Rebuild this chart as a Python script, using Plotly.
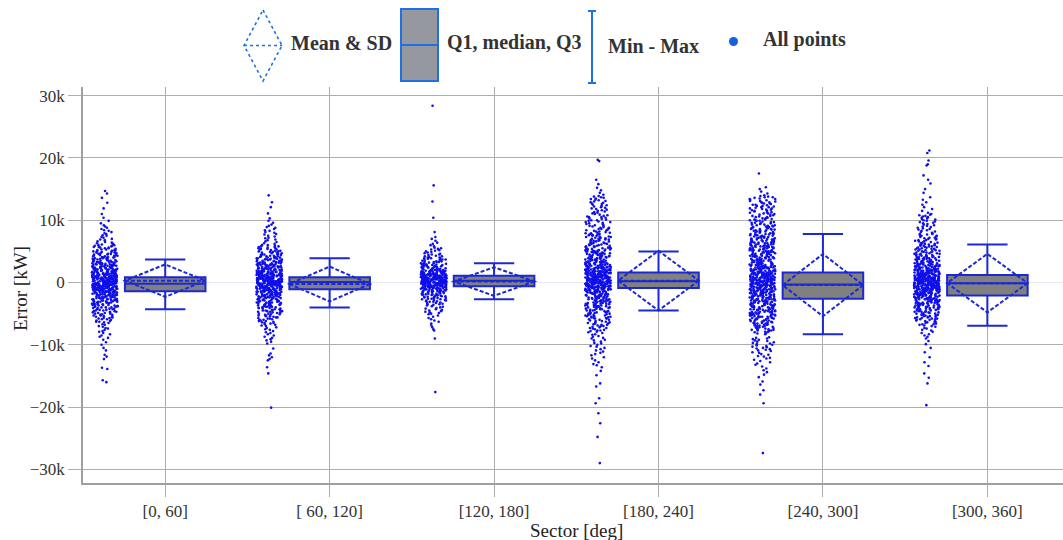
import plotly.graph_objects as go

# ---------------- data ----------------
sectors = ["[0, 60]", "[ 60, 120]", "[120, 180]", "[180, 240]", "[240, 300]", "[300, 360]"]

# box statistics (kW)
q1_vals = [-1400, -1100, -600, -900, -2600, -2100]
median_vals = [-200, 100, 300, 200, -300, -100]
q3_vals = [850, 850, 1070, 1600, 1600, 1200]
lower_vals = [-4300, -4000, -2700, -4500, -8300, -6950]
upper_vals = [3700, 3900, 3100, 5000, 7800, 6100]
mean_vals = [300, -240, 160, 300, -420, -100]
sd_vals = [2600, 2800, 2300, 4800, 5000, 4700]

pts_0_60 = [
    (14.7, 1), (14.3, 1), (13.6, 1), (12.8, 1), (11.9, 1), (11.0, 1), (10.4, 1), (9.9, 1), (9.5, 1), (9.2, 1),
    (9.0, 1), (8.8, 1), (8.6, 1), (8.4, 1), (8.3, 1), (8.1, 1), (7.9, 1), (7.8, 1), (7.6, 1), (7.5, 1),
    (7.3, 1), (7.2, 1), (7.0, 1), (6.9, 1), (6.8, 1), (6.6, 1), (6.5, 1), (6.4, 1), (6.3, 1), (6.2, 1), (6.1, 1),
    (6.0, 2), (5.9, 2), (5.8, 1), (5.7, 2), (5.6, 2), (5.5, 2), (5.4, 1), (5.3, 2), (5.2, 2), (5.1, 2),
    (5.0, 2), (4.9, 2), (4.8, 2), (4.7, 2), (4.6, 3), (4.5, 2), (4.4, 2), (4.3, 3), (4.2, 2), (4.1, 3), (4.0, 3),
    (3.9, 3), (3.8, 3), (3.7, 3), (3.6, 3), (3.5, 4), (3.4, 3), (3.3, 3), (3.2, 4), (3.1, 3), (3.0, 4),
    (2.9, 4), (2.8, 4), (2.7, 4), (2.6, 4), (2.5, 4), (2.4, 5), (2.3, 4), (2.2, 4), (2.1, 5), (2.0, 4),
    (1.9, 5), (1.8, 4), (1.7, 5), (1.6, 5), (1.5, 5), (1.4, 5), (1.3, 5), (1.2, 5), (1.1, 6), (1.0, 6),
    (0.9, 6), (0.8, 7), (0.7, 6), (0.6, 7), (0.5, 7), (0.4, 6), (0.3, 7), (0.2, 7), (0.1, 6), (0.0, 7),
    (-0.1, 7), (-0.2, 6), (-0.3, 7), (-0.4, 7), (-0.5, 6), (-0.6, 7), (-0.7, 6), (-0.8, 6), (-0.9, 6), (-1.0, 6),
    (-1.1, 6), (-1.2, 5), (-1.3, 6), (-1.4, 5), (-1.5, 5), (-1.6, 5), (-1.7, 4), (-1.8, 5), (-1.9, 4), (-2.0, 4),
    (-2.1, 4), (-2.2, 4), (-2.3, 4), (-2.4, 4), (-2.5, 4), (-2.6, 3), (-2.7, 4), (-2.8, 3), (-2.9, 4), (-3.0, 3),
    (-3.1, 3), (-3.2, 3), (-3.3, 3), (-3.4, 3), (-3.5, 3), (-3.6, 3), (-3.7, 2), (-3.8, 3), (-3.9, 2), (-4.0, 3),
    (-4.1, 2), (-4.2, 2), (-4.3, 2), (-4.4, 2), (-4.5, 2), (-4.6, 2), (-4.7, 2), (-4.8, 2), (-4.9, 2), (-5.0, 2),
    (-5.1, 1), (-5.2, 2), (-5.3, 2), (-5.4, 1), (-5.5, 2), (-5.6, 1), (-5.7, 2), (-5.8, 1), (-5.9, 2), (-6.0, 1),
    (-6.1, 1), (-6.2, 1), (-6.3, 2), (-6.4, 1), (-6.5, 1), (-6.7, 1), (-6.8, 1), (-7.0, 1), (-7.1, 1), (-7.3, 1),
    (-7.4, 1), (-7.6, 1), (-7.8, 1), (-7.9, 1), (-8.1, 1), (-8.3, 1), (-8.5, 1), (-8.7, 1), (-8.9, 1), (-9.2, 1),
    (-9.6, 1), (-10.0, 1), (-10.5, 1), (-10.9, 1), (-11.6, 1), (-11.9, 1), (-12.3, 1), (-13.7, 1), (-13.9, 1),
    (-15.7, 1), (-16.0, 1),
]

pts_60_120 = [
    (14.0, 1), (12.9, 1), (12.1, 1), (11.1, 1), (10.3, 1), (9.9, 1), (9.6, 1), (9.3, 1), (9.1, 1), (8.9, 1),
    (8.8, 1), (8.6, 1), (8.4, 1), (8.3, 1), (8.1, 1), (8.0, 1), (7.8, 1), (7.7, 1), (7.5, 1), (7.4, 1),
    (7.2, 1), (7.1, 1), (6.9, 1), (6.8, 1), (6.6, 1), (6.5, 1), (6.3, 1), (6.2, 1),
    (6.0, 2), (5.9, 1), (5.8, 2), (5.7, 2), (5.6, 1), (5.5, 2), (5.4, 2), (5.3, 2), (5.2, 1), (5.1, 2),
    (5.0, 2), (4.9, 2), (4.8, 2), (4.7, 2), (4.6, 2), (4.5, 3), (4.4, 2), (4.3, 2), (4.2, 3), (4.1, 2),
    (4.0, 3), (3.9, 3), (3.8, 3), (3.7, 3), (3.6, 3), (3.5, 3), (3.4, 4), (3.3, 3), (3.2, 3), (3.1, 4), (3.0, 3),
    (2.9, 4), (2.8, 4), (2.7, 4), (2.6, 4), (2.5, 4), (2.4, 4), (2.3, 5), (2.2, 4), (2.1, 4), (2.0, 5),
    (1.9, 4), (1.8, 5), (1.7, 5), (1.6, 5), (1.5, 5), (1.4, 5), (1.3, 5), (1.2, 6), (1.1, 5), (1.0, 6),
    (0.9, 6), (0.8, 7), (0.7, 6), (0.6, 7), (0.5, 7), (0.4, 7), (0.3, 6), (0.2, 7), (0.1, 7), (0.0, 7),
    (-0.1, 7), (-0.2, 6), (-0.3, 7), (-0.4, 6), (-0.5, 7), (-0.6, 6), (-0.7, 6), (-0.8, 6), (-0.9, 6), (-1.0, 6),
    (-1.1, 5), (-1.2, 6), (-1.3, 5), (-1.4, 5), (-1.5, 4), (-1.6, 5), (-1.7, 4), (-1.8, 4), (-1.9, 4), (-2.0, 4),
    (-2.1, 4), (-2.2, 4), (-2.3, 3), (-2.4, 4), (-2.5, 4), (-2.6, 3), (-2.7, 4), (-2.8, 3), (-2.9, 3), (-3.0, 4),
    (-3.1, 3), (-3.2, 3), (-3.3, 3), (-3.4, 3), (-3.5, 3), (-3.6, 3), (-3.7, 3), (-3.8, 2), (-3.9, 3), (-4.0, 2),
    (-4.1, 3), (-4.2, 2), (-4.3, 2), (-4.4, 2), (-4.5, 3), (-4.6, 2), (-4.7, 2), (-4.8, 2), (-4.9, 2), (-5.0, 2),
    (-5.1, 2), (-5.2, 1), (-5.3, 2), (-5.4, 2), (-5.5, 1), (-5.6, 2), (-5.7, 1), (-5.8, 2), (-5.9, 1), (-6.0, 2),
    (-6.1, 1), (-6.2, 2), (-6.3, 1), (-6.4, 1), (-6.5, 2), (-6.6, 1), (-6.7, 1), (-6.8, 1), (-6.9, 1), (-7.0, 1),
    (-7.2, 1), (-7.3, 1), (-7.5, 1), (-7.6, 1), (-7.8, 1), (-8.0, 1), (-8.1, 1), (-8.3, 1), (-8.5, 1), (-8.7, 1),
    (-8.9, 1), (-9.1, 1), (-9.3, 1), (-9.5, 1), (-9.8, 1), (-10.6, 1), (-11.4, 1), (-11.7, 1), (-12.0, 1), (-12.3, 1),
    (-12.5, 1), (-13.6, 1), (-14.6, 1), (-20.1, 1),
]

pts_120_180 = [
    (28.4, 1), (15.6, 1), (13.0, 1), (10.4, 1), (8.1, 1), (7.3, 1), (7.0, 1), (6.7, 1), (6.4, 1), (6.2, 1),
    (6.0, 1), (5.8, 1), (5.6, 1), (5.5, 1), (5.4, 1), (5.3, 1), (5.2, 1), (5.1, 1), (5.0, 1), (4.9, 1),
    (4.8, 1), (4.7, 1), (4.6, 1), (4.5, 2), (4.4, 1), (4.3, 1), (4.2, 2), (4.1, 1),
    (4.0, 2), (3.9, 2), (3.8, 2), (3.7, 2), (3.6, 2), (3.5, 2), (3.4, 2), (3.3, 3), (3.2, 2), (3.1, 2), (3.0, 3),
    (2.9, 3), (2.8, 3), (2.7, 3), (2.6, 3), (2.5, 3), (2.4, 4), (2.3, 3), (2.2, 4), (2.1, 4), (2.0, 4),
    (1.9, 4), (1.8, 5), (1.7, 5), (1.6, 5), (1.5, 6), (1.4, 6), (1.3, 7), (1.2, 7), (1.1, 7), (1.0, 8),
    (0.9, 8), (0.8, 8), (0.7, 8), (0.6, 8), (0.5, 8), (0.4, 8), (0.3, 8), (0.2, 8), (0.1, 8), (0.0, 8),
    (-0.1, 8), (-0.2, 7), (-0.3, 8), (-0.4, 7), (-0.5, 7), (-0.6, 7), (-0.7, 6), (-0.8, 6), (-0.9, 5), (-1.0, 5),
    (-1.1, 4), (-1.2, 4), (-1.3, 4), (-1.4, 4), (-1.5, 3), (-1.6, 3), (-1.7, 3), (-1.8, 3), (-1.9, 3), (-2.0, 3),
    (-2.1, 3), (-2.2, 2), (-2.3, 3), (-2.4, 2), (-2.5, 3), (-2.6, 2), (-2.7, 2), (-2.8, 2), (-2.9, 2), (-3.0, 2),
    (-3.1, 2), (-3.2, 1), (-3.3, 2), (-3.4, 1), (-3.5, 2), (-3.6, 1), (-3.7, 1), (-3.8, 1), (-3.9, 1), (-4.0, 1),
    (-4.1, 1), (-4.2, 1), (-4.3, 1), (-4.4, 1), (-4.5, 1), (-4.6, 1), (-4.7, 1), (-4.8, 1), (-4.9, 1), (-5.0, 1),
    (-5.1, 1), (-5.3, 1), (-5.5, 1), (-5.7, 1), (-5.9, 1), (-6.1, 1), (-6.3, 1), (-6.6, 1), (-6.9, 1), (-7.2, 1),
    (-7.5, 1), (-7.7, 1), (-9.0, 1), (-17.6, 1),
]

pts_180_240 = [
    (19.7, 1), (19.5, 1), (16.5, 1), (15.8, 1), (15.2, 1), (14.8, 1), (14.4, 1), (14.1, 1),
    (13.9, 1), (13.8, 1), (13.7, 1), (13.6, 1), (13.5, 1), (13.4, 1), (13.3, 1), (13.2, 1), (13.1, 1), (13.0, 1),
    (12.9, 1), (12.8, 1), (12.7, 1), (12.6, 1), (12.5, 1), (12.4, 1), (12.3, 1), (12.2, 1), (12.1, 1), (12.0, 1),
    (11.9, 1), (11.8, 1), (11.7, 1), (11.6, 1), (11.5, 1), (11.4, 1), (11.3, 1), (11.2, 1), (11.1, 1), (11.0, 1),
    (10.9, 1), (10.8, 1), (10.7, 1), (10.6, 1), (10.5, 2), (10.4, 1), (10.3, 1), (10.2, 1), (10.1, 1), (10.0, 2),
    (9.9, 1), (9.8, 1), (9.7, 2), (9.6, 1), (9.5, 1), (9.4, 2), (9.3, 1), (9.2, 1), (9.1, 2), (9.0, 1),
    (8.9, 1), (8.8, 2), (8.7, 1), (8.6, 2), (8.5, 1), (8.4, 2), (8.3, 1), (8.2, 2), (8.1, 1), (8.0, 2),
    (7.9, 2), (7.8, 2), (7.7, 2), (7.6, 2), (7.5, 2), (7.4, 2), (7.3, 2), (7.2, 2), (7.1, 2), (7.0, 2),
    (6.9, 2), (6.8, 2), (6.7, 2), (6.6, 2), (6.5, 2), (6.4, 2), (6.3, 2), (6.2, 2), (6.1, 2), (6.0, 2),
    (5.9, 2), (5.8, 2), (5.7, 2), (5.6, 3), (5.5, 2), (5.4, 2), (5.3, 3), (5.2, 2), (5.1, 3), (5.0, 3),
    (4.9, 3), (4.8, 3), (4.7, 3), (4.6, 3), (4.5, 3), (4.4, 3), (4.3, 3), (4.2, 3), (4.1, 3), (4.0, 3),
    (3.9, 3), (3.8, 3), (3.7, 4), (3.6, 3), (3.5, 4), (3.4, 3), (3.3, 4), (3.2, 4), (3.1, 4), (3.0, 4),
    (2.9, 4), (2.8, 4), (2.7, 4), (2.6, 5), (2.5, 5), (2.4, 5), (2.3, 5), (2.2, 5), (2.1, 6), (2.0, 5),
    (1.9, 6), (1.8, 6), (1.7, 6), (1.6, 6), (1.5, 6), (1.4, 6), (1.3, 6), (1.2, 6), (1.1, 6), (1.0, 6),
    (0.9, 6), (0.8, 6), (0.7, 6), (0.6, 6), (0.5, 6), (0.4, 6), (0.3, 6), (0.2, 6), (0.1, 6), (0.0, 6),
    (-0.1, 6), (-0.2, 6), (-0.3, 6), (-0.4, 6), (-0.5, 6), (-0.6, 6), (-0.7, 6), (-0.8, 6), (-0.9, 6), (-1.0, 5),
    (-1.1, 5), (-1.2, 5), (-1.3, 5), (-1.4, 4), (-1.5, 4), (-1.6, 4), (-1.7, 4), (-1.8, 3), (-1.9, 4), (-2.0, 3),
    (-2.1, 3), (-2.2, 3), (-2.3, 3), (-2.4, 3), (-2.5, 3), (-2.6, 3), (-2.7, 3), (-2.8, 3), (-2.9, 3), (-3.0, 3),
    (-3.1, 3), (-3.2, 3), (-3.3, 3), (-3.4, 3), (-3.5, 2), (-3.6, 3), (-3.7, 2), (-3.8, 3), (-3.9, 2), (-4.0, 3),
    (-4.1, 2), (-4.2, 2), (-4.3, 2), (-4.4, 2), (-4.5, 2), (-4.6, 2), (-4.7, 2), (-4.8, 2), (-4.9, 2), (-5.0, 2),
    (-5.1, 2), (-5.2, 2), (-5.3, 2), (-5.4, 2), (-5.5, 2), (-5.6, 2), (-5.7, 2), (-5.8, 2), (-5.9, 1), (-6.0, 2),
    (-6.1, 1), (-6.2, 2), (-6.3, 1), (-6.4, 2), (-6.5, 1), (-6.6, 2), (-6.7, 1), (-6.8, 2), (-6.9, 1), (-7.0, 2),
    (-7.1, 1), (-7.2, 1), (-7.3, 2), (-7.4, 1), (-7.5, 1), (-7.6, 1), (-7.7, 2), (-7.8, 1), (-7.9, 1), (-8.0, 1),
    (-8.1, 1), (-8.3, 1), (-8.4, 1), (-8.6, 1), (-8.7, 1), (-8.9, 1), (-9.0, 1), (-9.2, 1), (-9.3, 1), (-9.5, 1),
    (-9.7, 1), (-9.8, 1), (-10.0, 1), (-10.2, 1), (-10.3, 1), (-10.5, 1), (-10.7, 1), (-10.9, 1), (-11.1, 1), (-11.3, 1),
    (-11.5, 1), (-11.7, 1), (-12.0, 1), (-12.2, 1), (-12.5, 1), (-12.8, 1), (-13.1, 1), (-13.3, 1), (-13.6, 1), (-14.2, 1),
    (-14.9, 1), (-16.2, 1), (-16.7, 1), (-18.6, 1), (-19.4, 1), (-21.0, 1), (-22.6, 1), (-24.8, 1), (-29.0, 1),
]

pts_240_300 = [
    (17.5, 1), (15.3, 1), (15.0, 1), (14.6, 1), (14.3, 1), (14.0, 1),
    (13.9, 1), (13.8, 1), (13.7, 2), (13.6, 1), (13.5, 1), (13.4, 2), (13.3, 1), (13.2, 1), (13.1, 2), (13.0, 1),
    (12.9, 2), (12.8, 1), (12.7, 2), (12.6, 1), (12.5, 2), (12.4, 1), (12.3, 2), (12.2, 1), (12.1, 2), (12.0, 1),
    (11.9, 2), (11.8, 1), (11.7, 2), (11.6, 1), (11.5, 2), (11.4, 1), (11.3, 2), (11.2, 1), (11.1, 2), (11.0, 1),
    (10.9, 2), (10.8, 1), (10.7, 2), (10.6, 1), (10.5, 2), (10.4, 1), (10.3, 2), (10.2, 1), (10.1, 2), (10.0, 2),
    (9.9, 2), (9.8, 1), (9.7, 2), (9.6, 2), (9.5, 2), (9.4, 1), (9.3, 2), (9.2, 2), (9.1, 2), (9.0, 2),
    (8.9, 2), (8.8, 2), (8.7, 2), (8.6, 3), (8.5, 2), (8.4, 2), (8.3, 3), (8.2, 2), (8.1, 2), (8.0, 3),
    (7.9, 2), (7.8, 3), (7.7, 2), (7.6, 3), (7.5, 2), (7.4, 3), (7.3, 2), (7.2, 3), (7.1, 2), (7.0, 3),
    (6.9, 3), (6.8, 2), (6.7, 3), (6.6, 3), (6.5, 2), (6.4, 3), (6.3, 3), (6.2, 2), (6.1, 3), (6.0, 3),
    (5.9, 3), (5.8, 3), (5.7, 3), (5.6, 3), (5.5, 3), (5.4, 3), (5.3, 3), (5.2, 3), (5.1, 3), (5.0, 3),
    (4.9, 3), (4.8, 3), (4.7, 3), (4.6, 3), (4.5, 3), (4.4, 3), (4.3, 3), (4.2, 3), (4.1, 3), (4.0, 3),
    (3.9, 3), (3.8, 3), (3.7, 3), (3.6, 3), (3.5, 3), (3.4, 3), (3.3, 3), (3.2, 3), (3.1, 3), (3.0, 3),
    (2.9, 4), (2.8, 4), (2.7, 4), (2.6, 4), (2.5, 4), (2.4, 4), (2.3, 4), (2.2, 4), (2.1, 4), (2.0, 4),
    (1.9, 4), (1.8, 4), (1.7, 5), (1.6, 5), (1.5, 5), (1.4, 5), (1.3, 5), (1.2, 5), (1.1, 5), (1.0, 5),
    (0.9, 5), (0.8, 5), (0.7, 5), (0.6, 5), (0.5, 6), (0.4, 6), (0.3, 6), (0.2, 6), (0.1, 6), (0.0, 6),
    (-0.1, 6), (-0.2, 6), (-0.3, 6), (-0.4, 5), (-0.5, 5), (-0.6, 5), (-0.7, 5), (-0.8, 5), (-0.9, 5), (-1.0, 5),
    (-1.1, 5), (-1.2, 5), (-1.3, 5), (-1.4, 5), (-1.5, 5), (-1.6, 4), (-1.7, 4), (-1.8, 4), (-1.9, 4), (-2.0, 4),
    (-2.1, 4), (-2.2, 4), (-2.3, 4), (-2.4, 4), (-2.5, 4), (-2.6, 4), (-2.7, 4), (-2.8, 4), (-2.9, 4), (-3.0, 4),
    (-3.1, 3), (-3.2, 3), (-3.3, 3), (-3.4, 3), (-3.5, 3), (-3.6, 3), (-3.7, 3), (-3.8, 3), (-3.9, 3), (-4.0, 3),
    (-4.1, 3), (-4.2, 3), (-4.3, 3), (-4.4, 3), (-4.5, 3), (-4.6, 3), (-4.7, 3), (-4.8, 3), (-4.9, 3), (-5.0, 3),
    (-5.1, 3), (-5.2, 3), (-5.3, 3), (-5.4, 3), (-5.5, 3), (-5.6, 2), (-5.7, 3), (-5.8, 2), (-5.9, 3), (-6.0, 2),
    (-6.1, 3), (-6.2, 2), (-6.3, 2), (-6.4, 3), (-6.5, 2), (-6.6, 2), (-6.7, 2), (-6.8, 2), (-6.9, 2), (-7.0, 2),
    (-7.1, 2), (-7.2, 2), (-7.3, 2), (-7.4, 2), (-7.5, 2), (-7.6, 2), (-7.7, 2), (-7.8, 1), (-7.9, 2), (-8.0, 1),
    (-8.1, 1), (-8.2, 1), (-8.3, 1), (-8.8, 1), (-8.9, 1), (-9.0, 1), (-9.1, 1), (-9.2, 1), (-9.3, 1), (-9.4, 1),
    (-9.5, 1), (-9.6, 1), (-9.7, 1), (-9.8, 1), (-9.9, 1), (-10.0, 1), (-10.1, 1), (-10.2, 1), (-10.3, 1), (-10.4, 1),
    (-10.5, 1), (-10.6, 1), (-10.7, 1), (-10.8, 1), (-10.9, 1), (-11.0, 1), (-11.2, 1), (-11.3, 1), (-11.5, 1), (-11.6, 1),
    (-11.8, 1), (-11.9, 1), (-12.1, 1), (-12.2, 1), (-12.4, 1), (-12.6, 1), (-12.8, 1), (-13.0, 1), (-13.2, 1), (-13.5, 1),
    (-13.8, 1), (-14.1, 1), (-14.4, 1), (-14.8, 1), (-15.2, 1), (-15.9, 1), (-16.4, 1), (-17.3, 1), (-18.0, 1), (-19.4, 1),
    (-27.4, 1),
]

pts_300_360 = [
    (21.2, 1), (20.8, 1), (19.6, 1), (19.0, 1), (18.8, 1), (17.2, 1), (16.5, 1), (15.9, 1), (15.0, 1), (14.4, 1),
    (13.7, 1), (13.3, 1), (12.9, 1), (12.5, 1), (12.1, 1), (11.8, 1), (11.5, 1), (11.2, 1),
    (11.0, 1), (10.9, 1), (10.8, 1), (10.7, 1), (10.6, 1), (10.5, 1), (10.4, 1), (10.3, 1), (10.2, 1), (10.1, 1),
    (10.0, 1), (9.9, 1), (9.8, 1), (9.7, 1), (9.6, 1), (9.5, 1), (9.4, 1), (9.3, 1), (9.2, 1), (9.1, 1),
    (9.0, 1), (8.9, 1), (8.8, 1), (8.7, 1), (8.6, 1), (8.5, 1), (8.4, 1), (8.3, 1), (8.2, 1), (8.1, 1),
    (8.0, 1), (7.9, 1), (7.8, 2), (7.7, 1), (7.6, 1), (7.5, 2), (7.4, 1), (7.3, 1), (7.2, 2), (7.1, 1),
    (7.0, 2), (6.9, 1), (6.8, 2), (6.7, 1), (6.6, 2), (6.5, 1), (6.4, 2), (6.3, 1), (6.2, 2), (6.1, 2),
    (6.0, 2), (5.9, 2), (5.8, 2), (5.7, 2), (5.6, 2), (5.5, 2), (5.4, 2), (5.3, 2), (5.2, 2), (5.1, 2),
    (5.0, 2), (4.9, 2), (4.8, 2), (4.7, 2), (4.6, 3), (4.5, 2), (4.4, 2), (4.3, 3), (4.2, 2), (4.1, 3),
    (4.0, 3), (3.9, 3), (3.8, 3), (3.7, 3), (3.6, 3), (3.5, 3), (3.4, 3), (3.3, 3), (3.2, 3), (3.1, 3),
    (3.0, 4), (2.9, 4), (2.8, 4), (2.7, 4), (2.6, 4), (2.5, 4), (2.4, 4), (2.3, 4), (2.2, 5), (2.1, 5),
    (2.0, 5), (1.9, 5), (1.8, 5), (1.7, 5), (1.6, 5), (1.5, 6), (1.4, 6), (1.3, 6), (1.2, 6), (1.1, 6),
    (1.0, 6), (0.9, 6), (0.8, 6), (0.7, 7), (0.6, 7), (0.5, 7), (0.4, 7), (0.3, 7), (0.2, 7), (0.1, 7),
    (0.0, 7), (-0.1, 7), (-0.2, 7), (-0.3, 7), (-0.4, 7), (-0.5, 6), (-0.6, 6), (-0.7, 6), (-0.8, 6), (-0.9, 6),
    (-1.0, 6), (-1.1, 6), (-1.2, 6), (-1.3, 5), (-1.4, 5), (-1.5, 5), (-1.6, 5), (-1.7, 5), (-1.8, 5), (-1.9, 5),
    (-2.0, 5), (-2.1, 4), (-2.2, 4), (-2.3, 4), (-2.4, 4), (-2.5, 4), (-2.6, 4), (-2.7, 4), (-2.8, 4), (-2.9, 4),
    (-3.0, 3), (-3.1, 4), (-3.2, 3), (-3.3, 4), (-3.4, 3), (-3.5, 3), (-3.6, 3), (-3.7, 3), (-3.8, 3), (-3.9, 3),
    (-4.0, 3), (-4.1, 3), (-4.2, 2), (-4.3, 3), (-4.4, 2), (-4.5, 3), (-4.6, 2), (-4.7, 3), (-4.8, 2), (-4.9, 2),
    (-5.0, 2), (-5.1, 2), (-5.2, 2), (-5.3, 2), (-5.4, 2), (-5.5, 2), (-5.6, 2), (-5.7, 2), (-5.8, 2), (-5.9, 2),
    (-6.0, 2), (-6.1, 1), (-6.2, 2), (-6.3, 1), (-6.4, 2), (-6.5, 1), (-6.6, 1), (-6.7, 2), (-6.8, 1), (-6.9, 1),
    (-7.0, 1), (-7.1, 1), (-7.3, 1), (-7.4, 1), (-7.6, 1), (-7.7, 1), (-7.9, 1), (-8.1, 1), (-8.3, 1), (-8.5, 1),
    (-8.7, 1), (-9.0, 1), (-9.4, 1), (-9.9, 1), (-10.5, 1), (-11.2, 1), (-12.0, 1), (-12.8, 1), (-13.4, 1), (-14.6, 1),
    (-15.3, 1), (-16.2, 1), (-19.7, 1),
]

sector_points = [pts_0_60, pts_60_120, pts_120_180, pts_180_240, pts_240_300, pts_300_360]

y_tickvals = [-30000, -20000, -10000, 0, 10000, 20000, 30000]
y_ticktext = ["\u221230k", "\u221220k", "\u221210k", "0", "10k", "20k", "30k"]

legend_labels = ["Mean & SD", "Q1, median, Q3", "Min - Max", "All points"]
x_title = "Sector [deg]"
y_title = "Error [kW]"

# ---------------- styling ----------------
FONT = "Liberation Serif, Times New Roman, serif"
BOX_LINE = "rgb(28,40,212)"
PT_COLOR = "rgb(15,15,235)"
LEG_BLUE = "rgb(30,112,228)"
GRID = "#adadad"

W, H = 1063, 540
ML, MR, MT, MB = 83, 0, 87, 57
PW, PH = W - ML - MR, H - MT - MB


def px(x):
    return (x - ML) / PW


def py(y):
    return (H - MB - y) / PH


# ---------------- traces ----------------
pt_x, pt_y = [], []
for name, table in zip(sectors, sector_points):
    for v, n in table:
        for _ in range(n):
            pt_x.append(name)
            pt_y.append(v * 1000)

fig = go.Figure()
fig.add_trace(go.Box(
    x=pt_x, y=pt_y,
    boxpoints="all", jitter=0.32, pointpos=-1.5, width=0.49,
    fillcolor="rgba(0,0,0,0)",
    line=dict(color="rgba(0,0,0,0)", width=0),
    marker=dict(color=PT_COLOR, size=2.6),
    showlegend=False, hoveron="points",
))
fig.add_trace(go.Box(
    x=sectors,
    q1=q1_vals, median=median_vals, q3=q3_vals,
    lowerfence=lower_vals, upperfence=upper_vals,
    mean=mean_vals, sd=sd_vals, boxmean="sd",
    width=0.49, whiskerwidth=0.5,
    fillcolor="#808080",
    line=dict(color=BOX_LINE, width=2),
    boxpoints=False, showlegend=False,
))

# ---------------- legend drawing (top) ----------------
shapes = []
dx0, dx1, dy0, dy1, dym = 244, 282, 10, 81, 45.5
dxm = (dx0 + dx1) / 2
shapes.append(dict(
    type="path", xref="paper", yref="paper",
    path=f"M {px(dxm)} {py(dy0)} L {px(dx1)} {py(dym)} L {px(dxm)} {py(dy1)} L {px(dx0)} {py(dym)} Z",
    line=dict(color=LEG_BLUE, width=1.6, dash="dot"),
))
shapes.append(dict(type="line", xref="paper", yref="paper",
                   x0=px(dx0), x1=px(dx1), y0=py(dym), y1=py(dym),
                   line=dict(color=LEG_BLUE, width=1.6, dash="dot")))
shapes.append(dict(type="rect", xref="paper", yref="paper",
                   x0=px(401), x1=px(438), y0=py(9), y1=py(81),
                   fillcolor="#96989f", line=dict(color=LEG_BLUE, width=2)))
shapes.append(dict(type="line", xref="paper", yref="paper",
                   x0=px(401), x1=px(438), y0=py(45), y1=py(45),
                   line=dict(color=LEG_BLUE, width=2)))
mx = 592
for (xa, xb, ya, yb) in [(mx, mx, 11, 83), (mx - 4, mx + 4, 11, 11), (mx - 4, mx + 4, 83, 83)]:
    shapes.append(dict(type="line", xref="paper", yref="paper",
                       x0=px(xa), x1=px(xb), y0=py(ya), y1=py(yb),
                       line=dict(color=LEG_BLUE, width=2)))
shapes.append(dict(type="circle", xref="paper", yref="paper",
                   x0=px(729), x1=px(738), y0=py(37), y1=py(46),
                   fillcolor="rgb(21,96,216)", line=dict(width=0)))

annotations = []
for label, lx, ly in zip(legend_labels, [289, 445, 606, 761], [43, 42, 46, 40]):
    annotations.append(dict(
        text=label, xref="paper", yref="paper", x=px(lx), y=py(ly),
        xanchor="left", yanchor="middle", showarrow=False,
        font=dict(family=FONT, size=20, color="#333333", weight="bold"),
    ))
annotations.append(dict(
    text=y_title, xref="paper", yref="paper", x=px(20), y=py(289),
    xanchor="center", yanchor="middle", textangle=-90, showarrow=False,
    font=dict(family=FONT, size=19, color="#222222"),
))
annotations.append(dict(
    text=x_title, xref="paper", yref="paper", x=px(576), y=py(530),
    xanchor="center", yanchor="middle", showarrow=False,
    font=dict(family=FONT, size=19, color="#222222"),
))

fig.update_layout(
    width=W, height=H,
    margin=dict(l=ML, r=MR, t=MT, b=MB, pad=0),
    paper_bgcolor="white", plot_bgcolor="white",
    font=dict(family=FONT, color="#333333"),
    boxmode="overlay",
    showlegend=False,
    shapes=shapes,
    annotations=annotations,
    xaxis=dict(
        type="category", categoryorder="array", categoryarray=sectors,
        range=[-0.5, 5.46],
        showgrid=True, gridcolor=GRID, gridwidth=1,
        showline=True, linecolor="#a0a0a0", linewidth=1.5,
        ticks="outside", ticklen=12, tickcolor=GRID, tickwidth=1,
        tickfont=dict(family=FONT, size=17, color="#333333"),
        automargin=False,
    ),
    yaxis=dict(
        range=[-32200, 31400],
        tickvals=y_tickvals, ticktext=y_ticktext,
        showgrid=True, gridcolor=GRID, gridwidth=1,
        zeroline=True, zerolinecolor="#e4e8f6", zerolinewidth=1,
        showline=True, linecolor="#a0a0a0", linewidth=1.5,
        ticks="outside", ticklen=13, tickcolor=GRID, tickwidth=1,
        tickfont=dict(family=FONT, size=17, color="#333333"),
        automargin=False,
    ),
)

fig.write_html(
    "out.html",
    config={"displayModeBar": False},
    post_script="document.body.style.margin='0px';",
)
